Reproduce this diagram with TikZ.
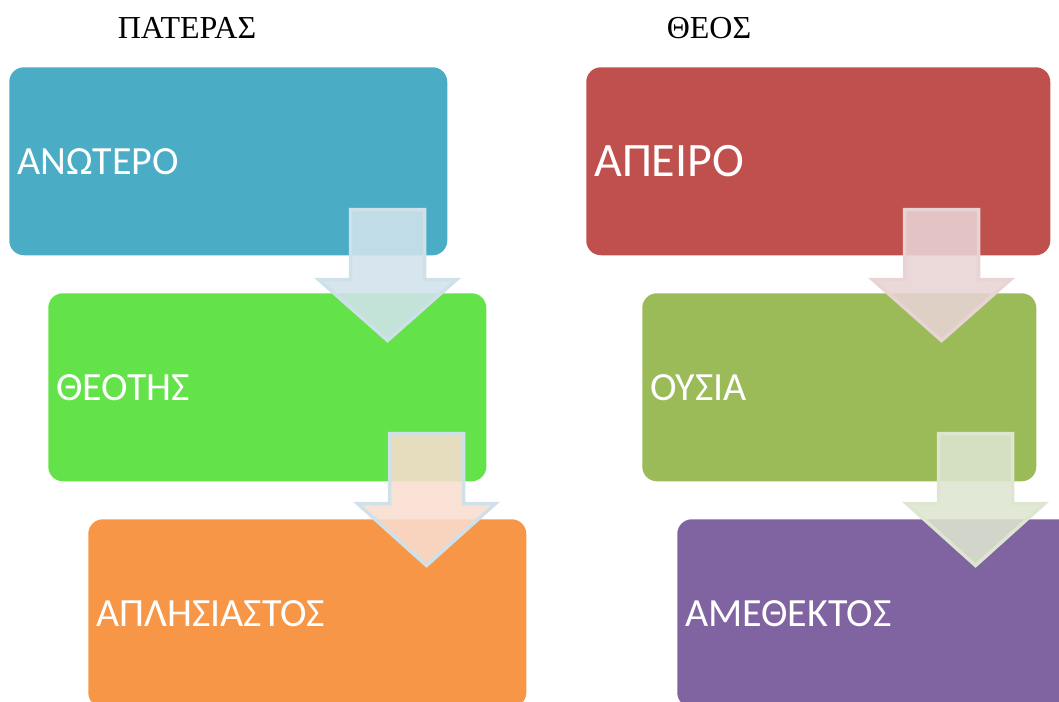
\documentclass[tikz,border=0pt]{standalone}
\usepackage{fontspec}
\newfontfamily\boxfont{Carlito}
\newfontfamily\headfont{Liberation Serif}
\definecolor{stageBlue}{HTML}{4BACC6}
\definecolor{stageGreen}{HTML}{63E24A}
\definecolor{stageOrange}{HTML}{F79646}
\definecolor{stageRed}{HTML}{C0504D}
\definecolor{stageOlive}{HTML}{9BBB59}
\definecolor{stagePurple}{HTML}{8064A2}
\definecolor{flowBlueFill}{HTML}{D1E3EC}
\definecolor{flowBlueLine}{HTML}{CFE1E8}
\definecolor{flowPeachFill}{HTML}{F9DDD0}
\definecolor{flowPinkFill}{HTML}{E8D3D4}
\definecolor{flowPinkLine}{HTML}{E9D4D5}
\definecolor{flowSageFill}{HTML}{DEE5D0}
\definecolor{flowSageLine}{HTML}{DCE6D0}
\begin{document}
\begin{tikzpicture}[x=0.75pt, y=-0.75pt,
    stage/.style ={rectangle, rounded corners=11pt, anchor=north west,
      minimum height=141pt, inner xsep=6pt, align=left, text=white,
      font=\boxfont\fontsize{30}{36}\selectfont},
    heading/.style ={anchor=base, font=\headfont\fontsize{24}{29}\selectfont},
    flow/.style ={line width=2.6pt, fill opacity=0.88}]
   \useasboundingbox (0,0) rectangle (1059,702);
   \clip (0,0) rectangle (1059,702);
   \node[heading] (pateras) at (187,39) {ΠΑΤΕΡΑΣ};
   \node[heading] (theos) at (709,39) {ΘΕΟΣ};
   \node[stage, fill=stageBlue, text width=316.5pt] (anotero) at (9,67) {ΑΝΩΤΕΡΟ};
   \node[stage, fill=stageGreen, text width=316.5pt] (theotis) at (48,293) {ΘΕΟΤΗΣ};
   \node[stage, fill=stageOrange, text width=316.5pt] (aplisiastos) at (88,519) {ΑΠΛΗΣΙΑΣΤΟΣ};
   \node[stage, fill=stageRed, text width=336pt,
     font=\boxfont\fontsize{36}{43}\selectfont] (apeiro) at (586,67) {ΑΠΕΙΡΟ};
   \node[stage, fill=stageOlive, text width=283.5pt] (ousia) at (642,293) {ΟΥΣΙΑ};
   \node[stage, fill=stagePurple, text width=316.5pt] (amethektos) at (677,519) {ΑΜΕΘΕΚΤΟΣ};
   \draw[flow, draw=flowBlueLine, fill=flowBlueFill] ([shift={(-97,-46)}]anotero.south east)
     -- ++(74,0) -- ++(0,70) -- ++(32,0) -- ++(-69,61) -- ++(-69,-61) -- ++(32,0) -- cycle;
   \draw[flow, draw=flowBlueLine, fill=flowPeachFill] ([shift={(-97,-48)}]theotis.south east)
     -- ++(74,0) -- ++(0,70) -- ++(32,0) -- ++(-69,62) -- ++(-69,-62) -- ++(32,0) -- cycle;
   \draw[flow, draw=flowPinkLine, fill=flowPinkFill] ([shift={(-146,-46)}]apeiro.south east)
     -- ++(74,0) -- ++(0,70) -- ++(32,0) -- ++(-69,61) -- ++(-69,-61) -- ++(32,0) -- cycle;
   \draw[flow, draw=flowSageLine, fill=flowSageFill] ([shift={(-98,-48)}]ousia.south east)
     -- ++(74,0) -- ++(0,70) -- ++(32,0) -- ++(-69,62) -- ++(-69,-62) -- ++(32,0) -- cycle;
\end{tikzpicture}
\end{document}
